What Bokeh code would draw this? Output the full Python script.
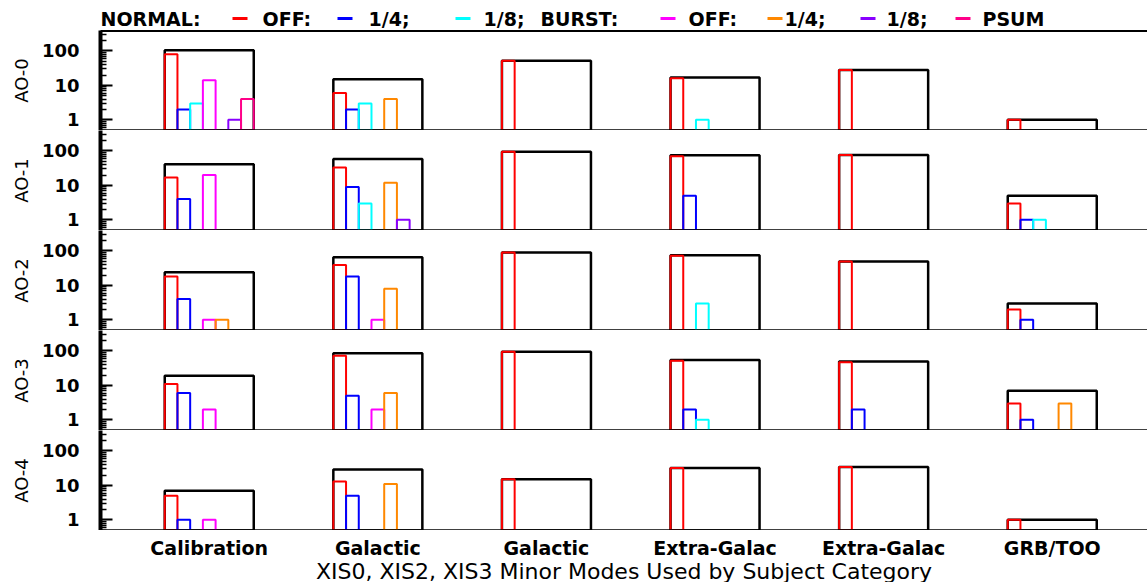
from bokeh.plotting import figure
from bokeh.layouts import column
from bokeh.models import Range1d, FixedTicker, LinearAxis, NumeralTickFormatter, ColumnDataSource
from bokeh.core.properties import value
from bokeh.embed import file_html
from bokeh.resources import INLINE

# ---------------- data ----------------
CATEGORIES = ["Calibration", "Galactic\nPoint Src", "Galactic\nDiffuse",
              "Extra-Galac\nPoint Src", "Extra-Galac\nDiffuse", "GRB/TOO"]
PANELS = ["AO-0", "AO-1", "AO-2", "AO-3", "AO-4"]
TITLE = "XIS0, XIS2, XIS3 Minor Modes Used by Subject Category"
Y_TICKS = [1, 10, 100]

SERIES_COLORS = ["#FF0000", "#0000FF", "#00FFFF", "#FF00FF", "#FF8800", "#8800FF", "#FF0088"]

# one row per panel (AO-0 .. AO-4), one value per category
normal_off = [[80, 6, 52, 16, 28, 1],
              [17, 33, 95, 70, 76, 3],
              [18, 39, 90, 72, 49, 2],
              [11, 72, 95, 52, 47, 3],
              [5, 13, 15, 32, 34, 1]]
normal_quarter = [[2, 2, 0, 0, 0, 0],
                  [4, 9, 0, 5, 0, 1],
                  [4, 18, 0, 0, 0, 1],
                  [6, 5, 0, 2, 2, 1],
                  [1, 5, 0, 0, 0, 0]]
normal_eighth = [[3, 3, 0, 1, 0, 0],
                 [0, 3, 0, 0, 0, 1],
                 [0, 0, 0, 3, 0, 0],
                 [0, 0, 0, 1, 0, 0],
                 [0, 0, 0, 0, 0, 0]]
burst_off = [[14, 0, 0, 0, 0, 0],
             [20, 0, 0, 0, 0, 0],
             [1, 1, 0, 0, 0, 0],
             [2, 2, 0, 0, 0, 0],
             [1, 0, 0, 0, 0, 0]]
burst_quarter = [[0, 4, 0, 0, 0, 0],
                 [0, 12, 0, 0, 0, 0],
                 [1, 8, 0, 0, 0, 0],
                 [0, 6, 0, 0, 0, 3],
                 [0, 11, 0, 0, 0, 0]]
burst_eighth = [[1, 0, 0, 0, 0, 0],
                [0, 1, 0, 0, 0, 0],
                [0, 0, 0, 0, 0, 0],
                [0, 0, 0, 0, 0, 0],
                [0, 0, 0, 0, 0, 0]]
psum = [[4, 0, 0, 0, 0, 0],
        [0, 0, 0, 0, 0, 0],
        [0, 0, 0, 0, 0, 0],
        [0, 0, 0, 0, 0, 0],
        [0, 0, 0, 0, 0, 0]]

SERIES = [normal_off, normal_quarter, normal_eighth,
          burst_off, burst_quarter, burst_eighth, psum]

# legend content
LEG_TEXT = ["NORMAL:", "OFF:", "1/4;", "1/8;", "BURST:", "OFF:", "1/4;", "1/8;", "PSUM"]

# ---------------- layout / style ----------------
FONT_NAME = "DejaVu Sans"
FONT = value(FONT_NAME)
X_START, X_END = -0.645, 5.565
Y_START, Y_END = 0.49, 392
BASE = 0.1
GROUP_W = 0.528
N_SLOTS = len(SERIES)
SLOT_W = GROUP_W / N_SLOTS
LEFT = 100
FRAME_W = 1047
PANEL_H = 100
LEG_H = 30
LAB_H = 28
TITLE_H = 24

LEG_TEXT_X = [100, 262, 368, 483, 540, 688, 784, 886, 982]
LEG_SW_X = [232, 337, 455, 660, 767, 860, 955]
LEG_SW_W = 15


def strip(height, x_range, y_range):
    s = figure(frame_width=FRAME_W, frame_height=height, x_range=x_range, y_range=y_range,
               output_backend="svg", toolbar_location=None,
               min_border=0, min_border_left=LEFT, outline_line_color=None)
    s.axis.visible = False
    s.grid.visible = False
    return s


# legend strip (frame aligned with the panels below)
leg = strip(LEG_H, Range1d(LEFT, LEFT + FRAME_W), Range1d(0, LEG_H))
leg.text(x=LEG_TEXT_X, y=[12] * len(LEG_TEXT_X), text=LEG_TEXT,
         text_font=FONT, text_font_style="bold", text_font_size="19px",
         text_baseline="middle", text_align="left", text_color="black")
leg.segment(x0=LEG_SW_X, y0=[12] * len(LEG_SW_X),
            x1=[x + LEG_SW_W for x in LEG_SW_X], y1=[12] * len(LEG_SW_X),
            line_color=SERIES_COLORS, line_width=3)

minor = [m * 10 ** e for e in (-1, 0, 1, 2) for m in range(2, 10)
         if Y_START <= m * 10 ** e <= Y_END]

cat_x = list(range(len(CATEGORIES)))
figs = [leg]
for k, name in enumerate(PANELS):
    p = figure(frame_width=FRAME_W, frame_height=PANEL_H,
               x_range=Range1d(X_START, X_END), y_range=Range1d(Y_START, Y_END),
               y_axis_type="log", output_backend="svg", toolbar_location=None,
               min_border_left=LEFT, min_border_right=0, min_border_top=0,
               min_border_bottom=0, outline_line_color=None)
    p.grid.visible = False

    totals = [sum(s[k][i] for s in SERIES) for i in cat_x]
    p.vbar(x=cat_x, width=GROUP_W, bottom=BASE, top=totals,
           fill_color=None, line_color="black", line_width=2.5)
    for s_idx, (ser, col) in enumerate(zip(SERIES, SERIES_COLORS)):
        xs, tops = [], []
        for i in cat_x:
            v = ser[k][i]
            if v > 0:
                xs.append(i + (s_idx - (N_SLOTS - 1) / 2) * SLOT_W)
                tops.append(v)
        if xs:
            src = ColumnDataSource(dict(x=xs, top=tops))
            p.vbar(x="x", top="top", bottom=BASE, width=SLOT_W, source=src,
                   fill_color=None, line_color=col, line_width=2)

    ya = p.yaxis[0]
    ya.ticker = FixedTicker(ticks=Y_TICKS, minor_ticks=minor)
    ya.formatter = NumeralTickFormatter(format="0")
    ya.major_tick_in = 12
    ya.major_tick_out = 0
    ya.minor_tick_in = 6
    ya.minor_tick_out = 0
    ya.major_tick_line_width = 2
    ya.minor_tick_line_width = 1.5
    ya.axis_line_width = 4
    ya.major_label_standoff = 21
    ya.major_label_text_font = FONT_NAME
    ya.major_label_text_font_style = "bold"
    ya.major_label_text_font_size = "18px"
    ya.major_label_text_color = "black"
    ya.axis_label = name
    ya.axis_label_standoff = 7
    ya.axis_label_text_font = FONT_NAME
    ya.axis_label_text_font_style = "normal"
    ya.axis_label_text_font_size = "18px"
    ya.axis_label_text_color = "black"

    xa = p.xaxis[0]
    xa.axis_line_width = 2.5
    xa.major_tick_out = 0
    xa.major_tick_in = 0
    xa.minor_tick_out = 0
    xa.minor_tick_in = 0
    xa.ticker = FixedTicker(ticks=[])
    xa.major_label_text_font_size = "0px"
    xa.major_label_standoff = 0

    if k == 0:
        top_axis = LinearAxis(ticker=FixedTicker(ticks=[]), major_label_text_font_size="0px",
                              major_label_standoff=0, major_tick_out=0, major_tick_in=0,
                              minor_tick_out=0, minor_tick_in=0, axis_line_width=3)
        p.add_layout(top_axis, "above")
    figs.append(p)

# category labels: second lines are cut by the strip's lower edge, as in the original
lab = strip(LAB_H, Range1d(X_START, X_END), Range1d(0, LAB_H))
lab.text(x=cat_x, y=[LAB_H - 6] * len(cat_x), text=CATEGORIES,
         text_font=FONT, text_font_style="bold", text_font_size="19px",
         text_line_height=0.82, text_baseline="top", text_align="center",
         text_color="black")
figs.append(lab)

# title strip
ttl = strip(TITLE_H, Range1d(X_START, X_END), Range1d(0, TITLE_H))
ttl.text(x=[(X_START + X_END) / 2], y=[TITLE_H / 2 - 1], text=[TITLE],
         text_font=FONT, text_font_size="22px", text_baseline="middle",
         text_align="center", text_color="black")
figs.append(ttl)

layout = column(*figs, spacing=0)
open("out.html", "w").write(file_html(layout, INLINE))
